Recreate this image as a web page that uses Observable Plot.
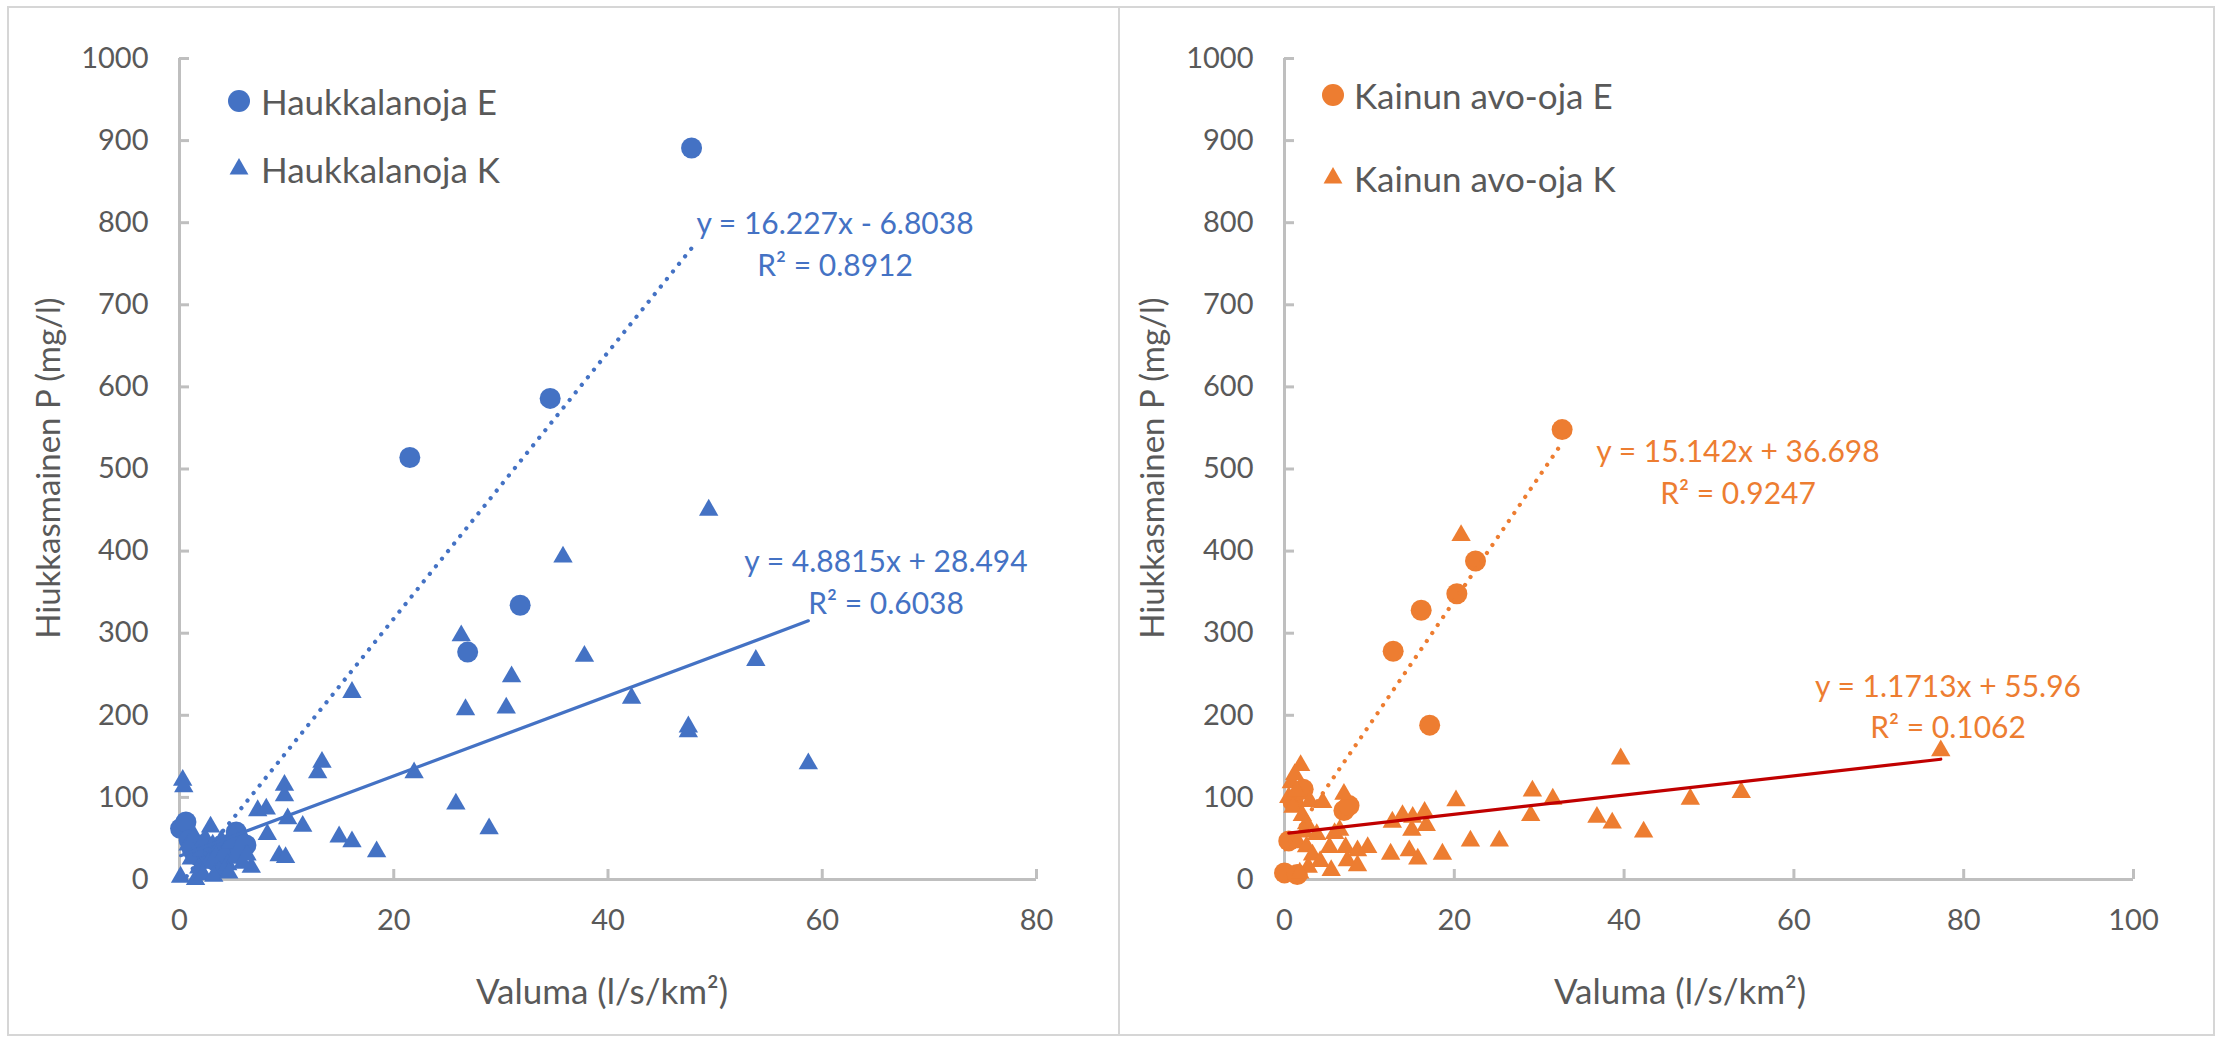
<!DOCTYPE html>
<html><head><meta charset="utf-8">
<script src="https://cdn.jsdelivr.net/npm/d3@7"></script>
<script src="https://cdn.jsdelivr.net/npm/@observablehq/plot@0.6"></script>
<style>
body{margin:0;background:#fff;font-family:Lato,"Open Sans",sans-serif;}
#wrap{position:relative;width:2221px;height:1039px;overflow:hidden;background:#fff;}
.panel{position:absolute;border:2px solid #d6d6d6;box-sizing:border-box;}
.abs{position:absolute;white-space:nowrap;line-height:1;}
.c{transform:translate(-50%,-50%);}
</style></head><body><div id="wrap"></div>
<script>
// ---------- data ----------
const seriesNames = ["Haukkalanoja E","Haukkalanoja K","Kainun avo-oja E","Kainun avo-oja K"];
const yTicks = [0,100,200,300,400,500,600,700,800,900,1000];
const xTicksLeft = [0,20,40,60,80];
const xTicksRight = [0,20,40,60,80,100];

const haukE_x = [0.1,0.6,0.9,1.2,1.6,2.0,2.4,2.9,3.4,3.9,4.4,4.9,5.3,5.7,6.2,21.5,26.9,31.8,34.6,47.8];
const haukE_y = [62,70,48,36,30,42,26,34,22,40,30,45,58,33,42,514,277,334,586,891];

const haukK_x = [0.3,0.4,0.1,1.5,2.9,6.7,7.3,8.1,8.2,9.3,9.9,9.8,9.8,10.1,11.5,12.9,13.3,14.9,16.1,16.1,18.4,21.9,25.8,26.3,26.7,28.9,30.5,31.0,35.8,37.8,42.2,47.5,47.5,49.4,53.8,58.7,
  0.8,1.1,1.4,1.8,2.1,2.4,2.7,3.1,3.4,3.7,3.9,4.2,4.5,4.8,5.2,5.6,5.9,6.3,2.2,3.2,4.6,5.0,6.0];
const haukK_y = [121,113,3,0,64,15,84,86,55,29,27,115,102,74,65,130,143,52,46,228,34,130,92,297,207,62,209,247,393,272,221,186,180,450,267,141,
  42,25,52,14,35,50,20,42,28,10,48,33,18,45,26,38,20,30,6,4,8,55,50];

const kainE_x = [0.0,0.5,1.5,1.0,2.2,7.0,7.6,12.8,16.1,17.1,20.3,22.5,32.7];
const kainE_y = [8,47,6,95,110,84,90,278,328,188,348,388,548];

const kainK_x = [0.5,0.8,1.2,1.9,1.4,1.0,2.1,2.6,3.0,2.3,1.6,2.6,3.3,4.2,2.8,1.8,3.8,4.5,5.3,5.5,5.9,6.5,7.0,7.2,7.4,8.6,8.6,9.8,12.5,12.7,13.9,14.7,15.1,15.0,15.7,16.5,16.7,18.6,20.2,20.8,21.9,25.3,29.2,29.0,31.6,36.8,38.6,39.6,42.3,47.8,53.8,77.3];
const kainK_y = [100,118,128,139,108,88,78,68,95,58,45,40,30,22,15,8,55,94,39,11,56,60,104,39,23,35,17,39,31,70,78,35,76,60,25,82,66,31,96,419,47,47,108,78,98,76,69,147,58,98,106,157];

// trendline coefficients [slope, intercept, R2] as printed on the chart
const fitHaukE = ["16.227","-6.8038","0.8912"];
const fitHaukK = ["4.8815","28.494","0.6038"];
const fitKainE = ["15.142","36.698","0.9247"];
const fitKainK = ["1.1713","55.96","0.1062"];

const yTitle = "Hiukkasmainen P (mg/l)";
const xTitle = "Valuma (l/s/km²)";

// ---------- helpers ----------
const BLUE = "#4472C4", ORANGE = "#ED7D31", RED = "#C00000", AXIS = "#BFBFBF", TXT = "#595959";
const zip = (xs, ys) => xs.map((x, i) => ({x, y: ys[i]}));
function fitLine(xs, fit) {
  const a = +fit[0], b = +fit[1];
  const [x0, x1] = d3.extent(xs);
  return [{x: x0, y: a * x0 + b}, {x: x1, y: a * x1 + b}];
}
function eqText(fit) {
  const b = +fit[1];
  return `y = ${fit[0]}x ${b < 0 ? "-" : "+"} ${fit[1].replace("-", "")}`;
}
const wrap = document.getElementById("wrap");
function addDiv(html, style, cls = "abs") {
  const d = document.createElement("div");
  d.className = cls;
  d.innerHTML = html;
  Object.assign(d.style, style);
  wrap.appendChild(d);
  return d;
}

function makePanel(o) {
  const chart = Plot.plot({
    width: o.width, height: 1039,
    marginLeft: o.ml, marginRight: o.mr, marginTop: 58, marginBottom: 160,
    x: {domain: [0, o.xMax], label: null},
    y: {domain: [0, 1000], label: null},
    style: {fontFamily: "Lato, sans-serif", fontSize: "29px", color: TXT, background: "transparent", overflow: "visible"},
    marks: [
      Plot.ruleY([0], {stroke: AXIS, strokeWidth: 3}),
      Plot.ruleX([0], {stroke: AXIS, strokeWidth: 3}),
      Plot.axisY(yTicks, {tickSize: -10, tickFormat: () => "", stroke: AXIS, strokeWidth: 3, label: null}),
      Plot.axisX(o.xTicks, {tickSize: -10, tickFormat: () => "", stroke: AXIS, strokeWidth: 3, label: null}),
      Plot.axisY(yTicks, {tickSize: 0, tickPadding: 31, tickFormat: d => String(d), fill: TXT, label: null}),
      Plot.axisX(o.xTicks, {tickSize: 0, tickPadding: 30, tickFormat: d => String(d), fill: TXT, label: null}),
      Plot.dot(o.E, {x: "x", y: "y", r: 10.5, fill: o.color}),
      Plot.dot(o.K, {x: "x", y: "y", r: 7.2, symbol: "triangle", fill: o.color}),
      Plot.line(o.lineE, {x: "x", y: "y", stroke: o.color, strokeWidth: 4.2, strokeDasharray: "0.1 9.6", strokeLinecap: "round", clip: true}),
      Plot.line(o.lineK, {x: "x", y: "y", stroke: o.lineKColor, strokeWidth: 3.2, clip: true})
    ]
  });
  chart.style.position = "absolute";
  chart.style.top = "0px";
  chart.style.left = o.left + "px";
  wrap.appendChild(chart);
}

// panels (frames)
addDiv("", {left: "7px", top: "6px", width: "1113px", height: "1030px"}, "panel");
addDiv("", {left: "1118px", top: "6px", width: "1097px", height: "1030px"}, "panel");

makePanel({left: 0, width: 1120, ml: 179, mr: 84, xMax: 80, xTicks: xTicksLeft,
  E: zip(haukE_x, haukE_y), K: zip(haukK_x, haukK_y), color: BLUE, lineKColor: BLUE,
  lineE: fitLine(haukE_x, fitHaukE), lineK: fitLine(haukK_x, fitHaukK)});
makePanel({left: 1110, width: 1111, ml: 174, mr: 88, xMax: 100, xTicks: xTicksRight,
  E: zip(kainE_x, kainE_y), K: zip(kainK_x, kainK_y), color: ORANGE, lineKColor: RED,
  lineE: fitLine(kainE_x, fitKainE), lineK: fitLine(kainK_x, fitKainK)});

// axis titles
const titleStyle = {fontSize: "33px", color: TXT};
addDiv(yTitle, {...titleStyle, left: "47px", top: "468px", transform: "translate(-50%,-50%) rotate(-90deg)"});
addDiv(yTitle, {...titleStyle, left: "1151px", top: "468px", transform: "translate(-50%,-50%) rotate(-90deg)"});
addDiv(xTitle, {...titleStyle, fontSize: "35px", left: "602px", top: "990px"}, "abs c");
addDiv(xTitle, {...titleStyle, fontSize: "35px", left: "1680px", top: "990px"}, "abs c");

// legends
function legendSym(kind, color) {
  const path = kind === "circle" ? d3.symbol(d3.symbolCircle, Math.PI * 11 * 11)() : d3.symbol(d3.symbolTriangle, Math.PI * 7 * 7)();
  return `<svg width="30" height="30" viewBox="-15 -15 30 30" style="display:block"><path d="${path}" fill="${color}"/></svg>`;
}
function legendRow(name, kind, color, sx, sy, tx) {
  addDiv(legendSym(kind, color), {left: (sx - 15) + "px", top: (sy - 15) + "px"});
  addDiv(name, {left: tx + "px", top: sy + "px", fontSize: "35px", color: TXT, transform: "translateY(-50%)"});
}
legendRow(seriesNames[0], "circle", BLUE, 239, 101, 261);
legendRow(seriesNames[1], "triangle", BLUE, 239, 169, 261);
legendRow(seriesNames[2], "circle", ORANGE, 1333, 95, 1354);
legendRow(seriesNames[3], "triangle", ORANGE, 1333, 178, 1354);

// trendline equations
function eqLabel(fit, color, cx, y1, y2) {
  const st = {fontSize: "30px", color};
  addDiv(eqText(fit), {...st, left: cx + "px", top: y1 + "px"}, "abs c");
  addDiv(`R² = ${fit[2]}`, {...st, left: cx + "px", top: y2 + "px"}, "abs c");
}
eqLabel(fitHaukE, BLUE, 835, 222, 264);
eqLabel(fitHaukK, BLUE, 886, 560, 602);
eqLabel(fitKainE, ORANGE, 1738, 450, 492);
eqLabel(fitKainK, ORANGE, 1948, 685, 726);
</script></body></html>
